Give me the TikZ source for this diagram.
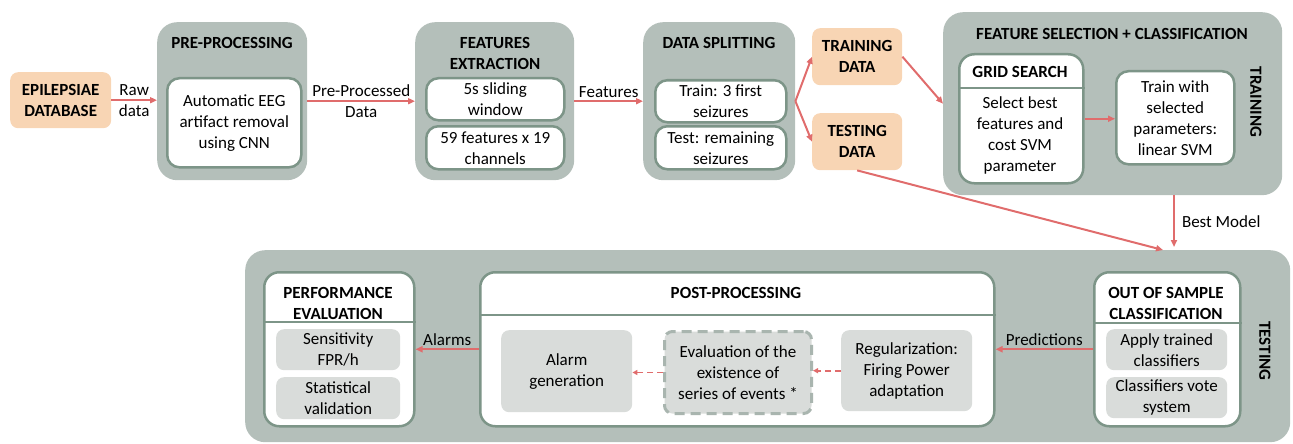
\documentclass[tikz,border=0pt]{standalone}
\usepackage{fontspec}
\setmainfont{Carlito}
\usetikzlibrary{arrows.meta}
\definecolor{stagegray}{HTML}{B4BFBA}
\definecolor{rimgreen}{HTML}{7D9588}
\definecolor{softgray}{HTML}{D9DCDA}
\definecolor{dataorange}{HTML}{F8D5B4}
\definecolor{flowred}{HTML}{E06C6C}
\definecolor{dashgray}{HTML}{A9B5AF}
\begin{document}
\begin{tikzpicture}[x=1pt, y=-1pt,
	every node/.style={font=\fontsize{17}{21}\selectfont, align=center, inner sep=0pt},
	stage/.style={fill=stagegray, rounded corners=20pt, anchor=north west},
	panel/.style={draw=rimgreen, line width=2.5pt, fill=white, rounded corners=12pt, anchor=north west},
	databox/.style={fill=dataorange, rounded corners=8pt, anchor=north west, font=\fontsize{17}{21}\selectfont\bfseries},
	softbox/.style={fill=softgray, rounded corners=8pt, anchor=north west},
	title/.style={font=\fontsize{17}{21}\selectfont\bfseries},
	cut/.style={draw=rimgreen, line width=2pt},
	flow/.style={draw=flowred, line width=2pt, -{Triangle[length=7pt, width=6pt]}},
	weak/.style={draw=flowred, line width=1.6pt, dash pattern=on 6pt off 4pt, -{Triangle[length=5pt, width=5pt]}}]
	\useasboundingbox (0,0) rectangle (1293,444);
	\node[databox, minimum width=101, minimum height=56] (epi) at (10,72) {EPILEPSIAE\\DATABASE};
	\node[stage, minimum width=150, minimum height=158] (pre) at (157,22) {};
	\node[title] (pretitle) at (232,43) {PRE-PROCESSING};
	\node[panel, minimum width=134, minimum height=89] (prein) at (166,77) {Automatic EEG\\artifact removal\\using CNN};
	\node[stage, minimum width=159, minimum height=158] (feat) at (415,22) {};
	\node[title] (feattitle) at (495,53) {FEATURES\\EXTRACTION};
	\node[panel, minimum width=138, minimum height=42] (feata) at (425,77) {5s sliding\\window};
	\node[panel, minimum width=138, minimum height=43] (featb) at (425,125) {59 features x 19\\channels};
	\node[stage, minimum width=152, minimum height=158] (split) at (643,22) {};
	\node[title] (splittitle) at (719,43) {DATA SPLITTING};
	\node[panel, minimum width=131, minimum height=42] (splita) at (654,79) {Train: 3 first\\seizures};
	\node[panel, minimum width=131, minimum height=43] (splitb) at (654,125) {Test: remaining\\seizures};
	\node[databox, minimum width=90, minimum height=57] (traind) at (812,28) {TRAINING\\DATA};
	\node[databox, minimum width=90, minimum height=57] (testd) at (812,113) {TESTING\\DATA};
	\node[stage, minimum width=339, minimum height=183] (fsel) at (943,12) {};
	\node[title] (fseltitle) at (1112,34) {FEATURE SELECTION + CLASSIFICATION};
	\node[title, rotate=-90] (trainlbl) at (1256,102) {TRAINING};
	\node[panel, rounded corners=15pt, minimum width=124, minimum height=129] (grid) at (958,53) {};
	\node[title] (gridtitle) at (1020,72) {GRID SEARCH};
	\node (gridtext) at (1020,135) {Select best\\features and\\cost SVM\\parameter};
	\node[panel, minimum width=118, minimum height=93] (fit) at (1115,70) {Train with\\selected\\parameters:\\linear SVM};
	\coordinate (gridcut) at (0,88);
	\draw[cut] (grid.west |- gridcut) -- (grid.east |- gridcut);
	\node[stage, minimum width=1045, minimum height=192] (test) at (245,250) {};
	\node[title, rotate=-90] (testlbl) at (1265,351) {TESTING};
	\node[panel, rounded corners=15pt, minimum width=150, minimum height=154] (perf) at (263,271) {};
	\node[title] (perftitle) at (338,303) {PERFORMANCE\\EVALUATION};
	\coordinate (perfcut) at (0,322);
	\draw[cut] (perf.west |- perfcut) -- (perf.east |- perfcut);
	\node[softbox, minimum width=124, minimum height=41] (sens) at (276,329) {Sensitivity\\FPR/h};
	\node[softbox, minimum width=124, minimum height=42] (stat) at (276,377) {Statistical\\validation};
	\node[panel, rounded corners=15pt, minimum width=514, minimum height=154] (post) at (479,271) {};
	\node[title] (posttitle) at (736,293) {POST-PROCESSING};
	\coordinate (postcut) at (0,315);
	\draw[cut] (post.west |- postcut) -- (post.east |- postcut);
	\node[softbox, minimum width=131, minimum height=82] (alarm) at (501,330) {Alarm\\generation};
	\node[softbox, draw=dashgray, line width=3pt, dash pattern=on 10pt off 6pt, minimum width=147, minimum height=82] (evalb) at (663,330) {Evaluation of the\\existence of\\series of events *};
	\node[softbox, minimum width=131, minimum height=81] (reg) at (841,330) {Regularization:\\Firing Power\\adaptation};
	\node[panel, rounded corners=15pt, minimum width=146, minimum height=154] (oos) at (1093,271) {};
	\node[title] (oostitle) at (1166,303) {OUT OF SAMPLE\\CLASSIFICATION};
	\coordinate (ooscut) at (0,323);
	\draw[cut] (oos.west |- ooscut) -- (oos.east |- ooscut);
	\node[softbox, minimum width=121, minimum height=41] (apply) at (1106,329) {Apply trained\\classifiers};
	\node[softbox, minimum width=121, minimum height=41] (vote) at (1106,377) {Classifiers vote\\system};
	\coordinate (testin) at (1163,250);
	\coordinate (bestin) at (1174,247);
	\draw[flow] (epi.east) -- (epi.east -| pre.west) node[midway] {Raw\\data};
	\draw[flow] (pre.east) -- (pre.east -| feat.west) node[midway] {Pre-Processed\\Data};
	\draw[flow] (feat.east) -- (feat.east -| split.west) node[midway, above=3pt] {Features};
	\draw[flow] (split.east) -- (traind.west);
	\draw[flow] (split.east) -- (testd.west);
	\draw[flow] (traind.east) -- (fsel.west);
	\draw[flow] (grid.east) -- (grid.east -| fit.west);
	\draw[flow] (fsel.south -| bestin) -- (bestin) node[midway, right=7pt] {Best Model};
	\draw[flow] (testd.south) -- (testin);
	\draw[flow] (oos.west) -- (oos.west -| post.east) node[midway, above=3pt] {Predictions};
	\draw[flow] (post.west) -- (post.west -| perf.east) node[midway, above=3pt] {Alarms};
	\draw[weak] (reg.west) -- (reg.west -| evalb.east);
	\draw[weak] (evalb.west) -- (evalb.west -| alarm.east);
\end{tikzpicture}
\end{document}
